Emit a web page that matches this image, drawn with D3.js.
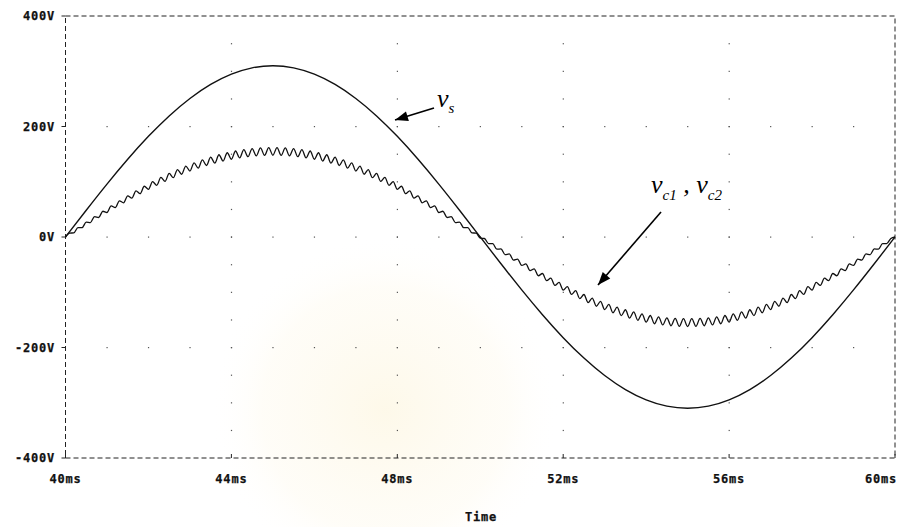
<!DOCTYPE html>
<html><head><meta charset="utf-8">
<script src="https://cdn.jsdelivr.net/npm/d3@7"></script>
<style>
html,body{margin:0;padding:0;background:#fff;}
svg{display:block;}
.lab{font-family:"DejaVu Sans Mono",monospace;font-weight:bold;font-size:12px;letter-spacing:0.8px;fill:#111;stroke:#111;stroke-width:0.25px;}
.ann{font-family:"Liberation Serif","Times New Roman",serif;font-style:italic;fill:#000;}
</style></head>
<body>
<svg id="c" width="897" height="527"></svg>
<script>
// ---- data ----
const xTicks = [40, 44, 48, 52, 56, 60];
const xTickLabels = ["40ms", "44ms", "48ms", "52ms", "56ms", "60ms"];
const yTicks = [400, 200, 0, -200, -400];
const yTickLabels = ["400V", "200V", "0V", "-200V", "-400V"];
const xTitle = "Time";

// v_s sampled every 0.5 ms from 40 ms to 60 ms (V)
const vsTime = d3.range(41).map(i => 40 + i * 0.5);
const vs = [0, 48.5, 95.8, 140.7, 182.2, 219.2, 250.8, 276.2, 294.8, 306.2, 310,
  306.2, 294.8, 276.2, 250.8, 219.2, 182.2, 140.7, 95.8, 48.5, 0,
  -48.5, -95.8, -140.7, -182.2, -219.2, -250.8, -276.2, -294.8, -306.2, -310,
  -306.2, -294.8, -276.2, -250.8, -219.2, -182.2, -140.7, -95.8, -48.5, 0];

// v_c1, v_c2 sampled every 0.1 ms (ripple peaks / troughs) (V)
const vcTime = d3.range(201).map(i => 40 + i * 0.1);
const vc = [0, 7.0, 7.4, 17.1, 16.8, 27.0, 26.1, 36.9, 35.3, 46.6,
  44.3, 56.2, 53.2, 65.5, 61.9, 74.6, 70.3, 83.4, 78.4, 91.9,
  86.2, 100.1, 93.6, 107.8, 100.7, 115.1, 107.3, 122.0, 113.6, 128.4,
  119.4, 134.3, 124.6, 139.7, 129.4, 144.6, 133.7, 148.9, 137.5, 152.5,
  140.7, 155.7, 143.3, 158.1, 145.3, 160.0, 146.8, 161.3, 147.7, 161.9,
  148.0, 161.9, 147.7, 161.3, 146.8, 160.0, 145.3, 158.1, 143.3, 155.7,
  140.7, 152.5, 137.5, 148.9, 133.7, 144.6, 129.4, 139.7, 124.6, 134.3,
  119.4, 128.4, 113.6, 122.0, 107.3, 115.1, 100.7, 107.8, 93.6, 100.1,
  86.2, 91.9, 78.4, 83.4, 70.3, 74.6, 61.9, 65.5, 53.2, 56.2,
  44.3, 46.6, 35.3, 36.9, 26.1, 27.0, 16.8, 17.1, 7.4, 7.0,
  -2.0, -2.7, -12.0, -12.1, -22.1, -21.5, -32.0, -30.7, -41.8, -39.9,
  -51.5, -48.8, -60.9, -57.6, -70.1, -66.1, -79.1, -74.4, -87.7, -82.3,
  -96.1, -89.9, -104.0, -97.2, -111.5, -104.1, -118.7, -110.5, -125.3, -116.5,
  -131.5, -122.1, -137.1, -127.1, -142.2, -131.7, -146.8, -135.7, -150.8, -139.1,
  -154.2, -142.1, -157.0, -144.4, -159.2, -146.2, -160.7, -147.3, -161.7, -147.9,
  -162.0, -147.9, -161.7, -147.3, -160.7, -146.2, -159.2, -144.4, -157.0, -142.1,
  -154.2, -139.1, -150.8, -135.7, -146.8, -131.7, -142.2, -127.1, -137.1, -122.1,
  -131.5, -116.5, -125.3, -110.5, -118.7, -104.1, -111.5, -97.2, -104.0, -89.9,
  -96.1, -82.3, -87.7, -74.4, -79.1, -66.1, -70.1, -57.6, -60.9, -48.8,
  -51.5, -39.9, -41.8, -30.7, -32.0, -21.5, -22.1, -12.1, -12.0, -2.7, 0];

// ---- drawing ----
const svg = d3.select("#c");
const L = 65.5, R = 895, T = 16, B = 458;
const x = d3.scaleLinear().domain([40, 60]).range([L, R]);
const y = d3.scaleLinear().domain([-400, 400]).range([B, T]);

// very faint watermark
const defs = svg.append("defs");
const rg = defs.append("radialGradient").attr("id", "wm");
rg.append("stop").attr("offset", "0%").attr("stop-color", "#fdf6e0").attr("stop-opacity", 0.7);
rg.append("stop").attr("offset", "70%").attr("stop-color", "#fefaee").attr("stop-opacity", 0.45);
rg.append("stop").attr("offset", "100%").attr("stop-color", "#ffffff").attr("stop-opacity", 0);
svg.append("circle").attr("cx", 385).attr("cy", 410).attr("r", 175).attr("fill", "url(#wm)");

// grid dots
const g = svg.append("g").attr("fill", "#555");
const minorX = d3.range(41, 60, 1);
[200, 0, -200].forEach(v => {
  minorX.forEach(t => g.append("rect").attr("x", x(t) - 0.5).attr("y", y(v) - 0.5).attr("width", 1.2).attr("height", 1.2));
});
[44, 48, 52, 56].forEach(t => {
  d3.range(-350, 400, 50).forEach(v => g.append("rect").attr("x", x(t) - 0.5).attr("y", y(v) - 0.5).attr("width", 1.2).attr("height", 1.2));
});

// dashed frame
svg.append("rect").attr("x", L).attr("y", T).attr("width", R - L).attr("height", B - T)
  .attr("fill", "none").attr("stroke", "#222").attr("stroke-width", 1).attr("stroke-dasharray", "5,3");

// ticks
xTicks.forEach((t) => {
  svg.append("line").attr("x1", x(t)).attr("x2", x(t)).attr("y1", B).attr("y2", B - 4).attr("stroke", "#222");
});
yTicks.forEach((v) => {
  svg.append("line").attr("x1", L - 4).attr("x2", L).attr("y1", y(v)).attr("y2", y(v)).attr("stroke", "#222");
});

// labels
xTicks.forEach((t, i) => {
  svg.append("text").attr("class", "lab").attr("x", Math.min(x(t), 881)).attr("y", 483)
    .attr("text-anchor", "middle").text(xTickLabels[i]);
});
yTicks.forEach((v, i) => {
  svg.append("text").attr("class", "lab").attr("x", 55).attr("y", y(v) + 4)
    .attr("text-anchor", "end").text(yTickLabels[i]);
});
svg.append("text").attr("class", "lab").attr("x", 481).attr("y", 521).attr("text-anchor", "middle").text(xTitle);

// curves
const lineVs = d3.line().x((d, i) => x(vsTime[i])).y(d => y(d)).curve(d3.curveNatural);
const lineVc = d3.line().x((d, i) => x(vcTime[i])).y(d => y(d)).curve(d3.curveMonotoneX);
svg.append("path").attr("d", lineVc(vc)).attr("fill", "none").attr("stroke", "#111").attr("stroke-width", 1.3);
svg.append("path").attr("d", lineVs(vs)).attr("fill", "none").attr("stroke", "#111").attr("stroke-width", 1.4);

// annotations
function arrow(x1, y1, x2, y2) {
  svg.append("line").attr("x1", x1).attr("y1", y1).attr("x2", x2).attr("y2", y2).attr("stroke", "#000").attr("stroke-width", 1.6);
  const a = Math.atan2(y2 - y1, x2 - x1), len = 13, w = 5;
  const bx = x2 - len * Math.cos(a), by = y2 - len * Math.sin(a);
  const p = [[x2, y2], [bx + w * Math.sin(a), by - w * Math.cos(a)], [bx - w * Math.sin(a), by + w * Math.cos(a)]];
  svg.append("path").attr("d", "M" + p.map(q => q.join(",")).join("L") + "Z").attr("fill", "#000");
}
arrow(434, 108, 395, 120);
arrow(661, 212, 598, 285);

const t1 = svg.append("text").attr("class", "ann").attr("x", 437).attr("y", 107).style("font-size", "26px");
t1.append("tspan").text("v");
t1.append("tspan").attr("dy", 6).style("font-size", "15px").text("s");

const t2 = svg.append("text").attr("class", "ann").attr("x", 651).attr("y", 193).style("font-size", "26px");
t2.append("tspan").text("v");
t2.append("tspan").attr("dy", 7).style("font-size", "15px").text("c1");
t2.append("tspan").attr("dy", -7).text(" , v");
t2.append("tspan").attr("dy", 7).style("font-size", "15px").text("c2");
</script>
</body></html>
